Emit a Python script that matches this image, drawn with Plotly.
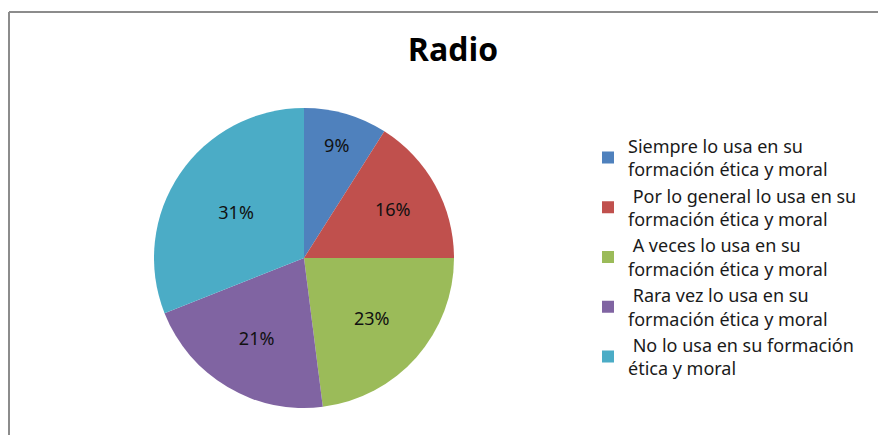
import plotly.graph_objects as go

labels = [
    "Siempre lo usa en su<br>formación ética y moral",
    " Por lo general lo usa en su<br>formación ética y moral",
    " A veces lo usa en su<br>formación ética y moral",
    " Rara vez lo usa en su<br>formación ética y moral",
    " No lo usa en su formación<br>ética y moral",
]
values = [9, 16, 23, 21, 31]
colors = ["#4F81BD", "#C0504D", "#9BBB59", "#8064A2", "#4BACC6"]

W, H = 886, 435
OFF = 8  # page body margin
cx, cy, r = 304 - OFF, 258 - OFF, 150

fig = go.Figure(
    go.Pie(
        labels=labels,
        values=values,
        sort=False,
        direction="clockwise",
        rotation=0,
        marker=dict(colors=colors, line=dict(width=0)),
        textinfo="percent",
        texttemplate="%{percent:.0%}",
        textposition="inside",
        insidetextorientation="horizontal",
        textfont=dict(family="Noto Sans", size=18, color="#111111"),
        domain=dict(x=[(cx - r) / W, (cx + r) / W], y=[(H - cy - r) / H, (H - cy + r) / H]),
        hoverinfo="label+percent",
    )
)

fig.update_layout(
    width=W,
    height=H,
    margin=dict(l=0, r=0, t=0, b=0),
    paper_bgcolor="white",
    plot_bgcolor="white",
    title=dict(
        text="<b>Radio</b>",
        x=(453 - OFF) / W,
        xanchor="center",
        y=1 - (50 - OFF) / H,
        yanchor="middle",
        font=dict(family="Open Sans", size=32, color="black"),
    ),
    legend=dict(
        x=(627 - 39 - OFF) / W,
        y=1 - (257 - OFF) / H,
        xanchor="left",
        yanchor="middle",
        font=dict(family="Noto Sans", size=18, color="#1a1a1a"),
        itemwidth=30,
        bgcolor="rgba(0,0,0,0)",
    ),
    shapes=[
        dict(type="line", xref="paper", yref="paper", x0=1 / W, x1=1, y0=1 - 4 / H, y1=1 - 4 / H,
             line=dict(color="#8c8c8c", width=2)),
        dict(type="line", xref="paper", yref="paper", x0=1 / W, x1=1 / W, y0=0, y1=1 - 4 / H,
             line=dict(color="#8c8c8c", width=2)),
    ],
)

fig.write_html("out.html")
